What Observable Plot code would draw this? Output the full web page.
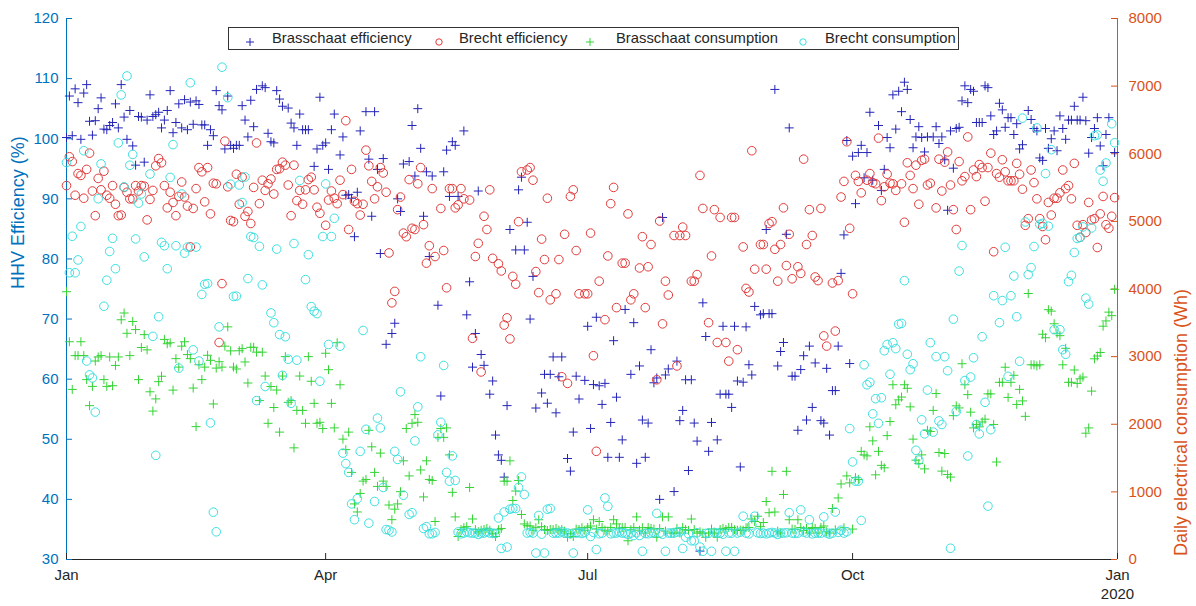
<!DOCTYPE html>
<html><head><meta charset="utf-8">
<script src="https://cdn.jsdelivr.net/npm/d3@7"></script>
<script src="https://cdn.jsdelivr.net/npm/@observablehq/plot@0.6"></script>
<style>
body{margin:0;background:#fff;}
#wrap{position:relative;width:1196px;height:606px;font-family:"Liberation Sans",Arial,sans-serif;}
#legend{position:absolute;left:228px;top:27px;width:729px;height:21px;border:1px solid #333;background:#fff;font-size:14.8px;color:#262626;}
.item{position:absolute;top:0;height:21px;line-height:21px;white-space:nowrap;}
.mk{position:absolute;top:6px;}
</style></head><body><div id="wrap"></div>
<script>
// ---- categories / ticks ----
const yearStart = "2019-01-01", yearEnd = "2020-01-01";
const monthTickDates = ["2019-01-01","2019-04-01","2019-07-01","2019-10-01","2020-01-01"];
const effTicks = [30,40,50,60,70,80,90,100,110,120];
const consTicks = [0,1000,2000,3000,4000,5000,6000,7000,8000];
const seriesNames = ["Brasschaat efficiency","Brecht efficiency","Brasschaat consumption","Brecht consumption"];

// ---- daily values (index = day of 2019), null = no point ----
const brasschaatEff = [
100.2,107.1,100.5,108.3,106.0,99.9,107.6,109.0,102.9,100.6,103.0,105.0,106.8,101.6,101.5,102.2,102.7,105.8,101.8,109.0,103.6,99.9,104.7,98.8,95.6,103.7,103.6,96.1,103.1,107.3,103.7,104.0,104.4,101.8,103.1,104.7,108.0,101.0,102.7,105.8,101.8,106.5,101.5,106.1,102.4,106.3,105.7,102.3,102.3,98.9,101.5,100.5,108.0,105.5,104.8,98.3,107.1,98.9,98.4,
98.9,98.9,105.5,103.1,100.3,106.4,102.0,108.2,null,108.8,108.5,100.9,99.5,99.3,108.0,106.6,105.4,null,105.1,102.6,101.8,98.9,104.1,101.5,101.5,101.5,null,95.4,98.3,106.9,98.9,99.3,94.9,101.5,104.1,null,97.3,100.3,90.6,90.7,90.1,83.7,91.1,101.3,null,104.5,96.6,87.1,104.5,94.9,80.9,96.7,65.8,null,67.6,69.3,90.0,87.9,95.8,null,96.2,
102.2,93.8,105.0,98.4,87.1,94.5,80.4,93.8,null,72.3,57.2,94.5,98.1,90.4,99.5,98.9,90.4,null,101.3,70.7,76.2,62.0,67.6,91.3,64.1,62.3,null,57.5,59.7,50.7,47.4,46.5,43.7,55.6,84.9,null,81.5,91.5,93.6,81.5,86.1,70.0,77.1,55.2,null,57.7,60.8,56.0,60.8,63.7,54.4,60.4,63.7,null,46.8,44.7,51.2,60.5,56.7,null,59.8,
68.8,51.8,59.1,70.3,58.9,55.8,59.3,47.0,52.8,66.4,57.0,47.0,49.9,71.6,null,60.8,69.4,46.0,62.2,53.2,47.0,52.7,64.9,59.4,60.2,40.0,86.9,60.7,61.7,null,41.3,63.0,53.1,54.8,59.9,44.8,59.9,52.7,49.7,31.4,72.7,67.1,48.0,52.8,null,49.9,57.5,68.8,57.5,57.5,55.3,68.8,59.7,45.4,59.5,68.7,62.4,60.7,72.1,null,70.7,
70.9,84.9,70.9,70.9,108.2,62.2,64.6,66.1,84.1,101.8,60.5,60.5,51.5,61.6,63.9,53.2,65.5,55.3,62.7,null,53.1,52.7,61.8,50.7,58.1,58.1,65.5,77.6,84.0,99.7,62.6,97.1,89.2,97.7,98.9,93.5,97.7,104.4,93.1,null,102.2,91.4,94.9,100.2,98.5,107.3,101.6,107.9,104.5,109.4,108.2,103.2,98.5,100.3,102.0,100.2,97.8,100.3,null,100.3,102.0,
99.2,100.3,96.5,88.1,101.3,95.1,101.7,101.9,106.3,108.8,106.0,108.2,107.9,102.7,102.7,102.7,108.8,108.5,103.8,100.7,101.3,105.9,104.8,101.9,103.5,103.5,100.7,102.5,98.3,99.0,null,104.7,103.2,101.7,101.3,96.8,96.4,101.7,98.4,100.0,101.3,98.0,103.8,101.7,99.9,103.1,103.1,105.4,103.1,103.1,106.9,103.0,97.6,100.2,101.7,103.5,98.8,95.5,100.7,103.5,null,97.7];

const brechtEff = [
92.2,97.0,96.2,90.6,94.2,93.9,90.1,94.9,97.6,91.3,87.2,93.4,91.5,94.6,90.6,90.1,92.2,89.1,87.2,87.3,91.9,91.1,90.0,90.0,92.2,91.3,92.2,92.1,86.5,89.9,91.4,95.5,96.7,96.0,92.2,88.5,91.1,89.4,87.2,90.4,92.8,90.3,88.8,82.0,88.4,91.7,95.2,94.5,89.5,95.2,87.5,92.6,92.5,66.1,75.9,99.6,92.0,86.4,86.2,
94.1,89.1,93.6,87.1,87.9,85.9,91.9,99.3,89.2,93.1,91.4,92.5,93.3,90.8,94.9,95.0,96.1,95.6,92.3,87.2,95.6,89.7,91.4,89.1,91.5,93.2,93.6,91.5,88.6,87.6,null,85.6,89.8,91.3,90.1,89.2,93.1,90.7,103.0,84.9,94.9,89.6,89.2,87.3,89.1,98.1,95.5,92.9,90.0,92.0,95.2,94.3,91.1,81.0,72.7,74.6,88.2,90.3,84.3,83.7,93.2,
85.1,84.9,92.5,95.2,85.7,79.3,82.2,91.7,80.4,null,88.4,81.4,75.2,91.7,91.7,88.5,89.0,91.7,90.0,null,89.8,66.8,80.4,82.6,61.2,87.1,84.9,91.5,80.1,null,79.2,78.0,69.0,70.2,66.7,77.1,75.8,86.2,94.5,null,94.8,95.2,93.1,77.9,74.4,83.3,79.9,90.1,73.2,null,74.2,79.9,60.4,84.1,59.3,90.4,91.5,81.4,74.2,null,74.2,
74.2,84.3,63.9,48.0,76.3,null,69.9,80.5,89.2,91.9,71.9,null,79.3,79.3,87.5,73.2,74.2,null,78.5,83.7,71.9,78.7,82.4,null,59.9,86.3,69.2,76.3,74.0,null,83.9,62.2,83.9,85.3,83.9,null,76.3,76.3,77.4,93.9,88.4,null,69.4,80.5,88.2,66.1,86.9,null,66.1,63.0,86.9,86.9,64.9,null,82.0,75.1,74.5,98.0,78.3,null,82.4,
82.4,78.3,85.9,86.2,81.6,76.3,82.4,88.5,78.9,84.1,76.7,null,78.7,77.6,96.6,82.4,88.2,83.9,77.0,76.4,88.4,67.2,65.5,null,76.0,68.0,76.4,90.3,92.9,99.5,85.1,74.2,93.9,92.9,91.0,null,93.1,94.2,92.7,92.5,100.1,89.7,92.0,94.1,92.6,92.5,91.4,null,92.5,86.1,96.0,93.9,91.7,95.6,89.1,96.4,96.6,92.3,92.6,null,88.5,
96.6,91.3,96.1,97.8,92.3,88.2,84.9,96.2,93.0,93.7,100.3,88.2,94.8,93.7,95.7,95.2,89.6,95.2,97.6,81.2,94.2,93.6,96.5,94.5,93.0,93.0,93.0,95.9,94.1,91.6,85.6,86.7,94.8,92.7,90.0,86.7,85.4,83.2,89.4,87.3,90.1,90.1,91.0,94.8,91.7,92.2,90.0,95.9,85.6,83.6,85.7,84.4,89.4,86.5,86.7,81.9,87.5,90.4,85.7,85.1,87.1,90.2];

const brasschaatCons = [
3960,3220,2515,3015,3015,3220,3015,2660,2275,2560,2935,2995,3015,2660,2560,2995,2570,2870,2995,3545,3645,3345,3015,3520,3400,2660,3135,3325,3100,2480,2195,2375,2630,2710,3255,3190,3205,2505,2970,2845,3155,3220,3030,2970,2535,1965,2880,2660,2845,3020,2945,2300,2830,2925,2845,3155,3440,3085,2845,
2817,3087,3118,2921,2610,3138,3138,3066,2350,3066,2713,2014,2558,2247,2506,1884,2713,3000,2324,2350,1651,2205,2713,2205,2014,3000,2636,2309,2014,2029,1936,3050,2807,2309,1946,3206,2584,1780,1625,1884,1288,822,703,977,1159,1184,1910,1666,1288,1081,1573,1159,1081,806,589,744,822,1003,1459,1936,1236,
2014,2143,2029,1324,925,1459,1184,1169,562,1806,1936,1806,1946,1547,993,630,340,443,470,485,1065,599,443,410,433,443,460,433,381,340,440,459,1158,1158,1459,873,1013,1169,666,526,500,495,433,470,588,485,443,430,443,443,460,433,443,420,329,381,340,450,443,470,433,
474,495,588,450,562,474,433,420,474,588,526,460,474,474,277,440,474,630,433,470,391,474,459,450,329,459,630,420,630,391,391,460,391,474,443,430,599,443,391,410,391,329,391,450,391,329,443,460,443,474,474,440,433,433,433,470,474,599,562,640,485,
547,858,692,1304,702,420,391,962,1304,588,450,443,588,474,430,459,391,474,460,391,474,495,410,391,754,440,910,1117,470,1236,1133,450,1210,1184,1599,1547,1532,1962,1754,1252,1599,1392,1356,1832,2040,2584,2288,2361,2402,2584,2532,2257,1780,1469,1418,1547,1340,1910,1894,2205,2454,
1582,1307,1567,1256,1219,2127,2272,2241,2895,2584,2438,2179,1946,1997,1961,2034,2075,2449,2449,1997,1442,2620,2620,2843,2397,2620,2724,2293,2516,2345,2117,3933,2879,2879,2864,2879,3331,3279,3694,3673,3486,3346,3310,2879,3123,2620,2620,2802,2604,2672,2698,1868,1946,2490,2968,3009,3061,3450,3528,3658,3606,3995];

const brechtCons = [
5870,4240,4780,4240,4430,4925,6045,2935,2730,2685,2180,5335,5850,3745,4130,4555,4750,4300,6160,6870,5510,7150,5830,5990,4740,5270,5405,4475,null,5700,3300,1540,3590,4690,4640,4300,5650,6135,4640,2830,5405,4530,4620,7050,3100,4620,2935,3920,4070,4080,2020,700,410,3440,7280,null,6830,5550,3890,
3895,5538,5279,5657,4154,4776,4761,2350,4631,4061,2558,null,3646,3501,4590,3325,2724,3294,2962,2309,4673,2947,5605,null,4139,4507,3740,3672,3636,2636,4776,5554,3180,4776,5046,null,3154,1573,1418,1288,822,589,899,1599,3387,1925,537,null,858,2091,1946,1065,443,433,407,1599,1480,2480,951,null,666,
692,1754,2257,2998,459,485,381,381,400,1843,2029,2869,1288,1158,1532,1169,407,380,391,407,395,391,391,370,391,391,405,391,391,385,614,163,702,184,744,754,754,1065,1221,961,391,400,391,96,651,375,96,744,754,390,391,391,410,391,391,380,96,391,395,385,400,
734,340,400,148,381,390,910,786,380,391,391,405,391,391,370,391,355,395,355,122,385,381,391,400,682,391,375,122,391,390,391,407,410,163,329,380,277,277,395,184,122,385,391,122,400,391,391,375,122,391,390,122,391,405,640,391,380,510,640,395,385,
391,380,391,400,391,370,391,391,395,692,391,385,391,734,405,391,588,380,391,391,390,630,391,375,391,702,400,433,391,410,1936,1443,1158,1158,578,2879,2584,2620,2154,2377,2014,2392,3087,3180,2739,3206,3118,3480,3491,4123,3035,2807,2895,1615,1469,2066,1858,2506,3206,1884,3000,
2049,1997,2999,2791,166,3554,2189,4265,4643,2646,1531,2698,2983,1997,1857,3294,2324,789,1920,3901,null,3502,3829,4617,2708,3901,4192,3590,2931,6527,4991,4213,4317,4628,6381,4955,4970,5707,4929,6060,3398,null,3398,3103,3035,4109,4202,4540,4747,4763,4918,3865,3777,4903,6267,6278,5759,5593,5863,null,6444,6163];

// ---- styling ----
const blueAxis = "#0072BD", orangeAxis = "#D95319", grayAxis = "#262626";
const colors = ["#2424b8", "#e23b3b", "#33d433", "#3ee0e0"];
const font = '"Liberation Sans", Arial, sans-serif';

const start = new Date(yearStart), end = new Date(yearEnd);
const days = d3.utcDay.range(start, end);
const monthTicks = monthTickDates.map(d => new Date(d));
const consToEff = v => 30 + v * 90 / 8000;
const rows = vals => vals.map((v, i) => ({date: days[i], value: v})).filter(d => d.value != null);

const plusSymbol = {draw(ctx, size) { const r = Math.sqrt(size / Math.PI); ctx.moveTo(-r, 0); ctx.lineTo(r, 0); ctx.moveTo(0, -r); ctx.lineTo(0, r); }};

const W = 1196, H = 606, mL = 66, mR = 79, mT = 18, mB = 47;
const pw = W - mL - mR, ph = H - mT - mB;

const chart = Plot.plot({
  width: W, height: H, marginTop: mT, marginBottom: mB, marginLeft: mL, marginRight: mR,
  style: {fontFamily: font, fontSize: "15px", background: "#fff", overflow: "visible"},
  x: {type: "utc", domain: [start, end], axis: null},
  y: {domain: [30, 120], axis: null},
  marks: [
    Plot.ruleX([start], {stroke: blueAxis}),
    Plot.ruleX([end], {stroke: orangeAxis}),
    Plot.ruleY([30], {stroke: grayAxis}),
    Plot.tickY(effTicks, {y: d => d, stroke: blueAxis, insetRight: pw - 6}),
    Plot.tickY(consTicks, {y: d => consToEff(d), stroke: orangeAxis, insetLeft: pw - 6}),
    Plot.tickX(monthTicks, {x: d => d, stroke: grayAxis, insetTop: ph - 6}),
    Plot.axisY(effTicks, {anchor: "left", tickSize: 0, tickPadding: 8, color: blueAxis, fontSize: 15, label: null}),
    Plot.axisY(consTicks.map(consToEff), {anchor: "right", tickSize: 0, tickPadding: 11, color: orangeAxis, fontSize: 15, label: null,
      tickFormat: d => String(Math.round((d - 30) * 8000 / 90))}),
    Plot.axisX(monthTicks, {anchor: "bottom", tickSize: 0, tickPadding: 10, color: grayAxis, fontSize: 15, label: null,
      tickFormat: d3.utcFormat("%b")}),
    Plot.text([end], {x: d => d, text: () => "2020", frameAnchor: "bottom", lineAnchor: "top", dy: 29, fill: grayAxis, fontSize: 15}),
    Plot.text(["HHV Efficiency (%)"], {frameAnchor: "left", dx: -48, rotate: -90, fill: blueAxis, fontSize: 18}),
    Plot.text(["Daily electrical consumption (Wh)"], {frameAnchor: "right", dx: 64, rotate: -90, fill: orangeAxis, fontSize: 18}),
    Plot.dot(rows(brasschaatEff), {x: "date", y: "value", symbol: plusSymbol, r: 4.5, stroke: colors[0], fill: "none", strokeWidth: 1}),
    Plot.dot(rows(brechtEff), {x: "date", y: "value", symbol: "circle", r: 4.3, stroke: colors[1], fill: "none", strokeWidth: 1}),
    Plot.dot(rows(brasschaatCons), {x: "date", y: d => consToEff(d.value), symbol: plusSymbol, r: 4.5, stroke: colors[2], fill: "none", strokeWidth: 1}),
    Plot.dot(rows(brechtCons), {x: "date", y: d => consToEff(d.value), symbol: "circle", r: 4.3, stroke: colors[3], fill: "none", strokeWidth: 1})
  ]
});

const wrap = document.getElementById("wrap");
wrap.appendChild(chart);

// legend (inside plot area, top)
const legend = document.createElement("div");
legend.id = "legend";
const legendPos = [[21, 43], [210, 230], [361, 387], [574, 596]];
const legendSym = ["plus", "circle", "plus", "circle"];
seriesNames.forEach((name, i) => {
  const mk = document.createElement("div");
  mk.className = "mk";
  mk.style.left = (legendPos[i][0] - 5) + "px";
  mk.innerHTML = legendSym[i] === "plus"
    ? `<svg width="10" height="10"><path d="M1,5H9M5,1V9" stroke="${colors[i]}" fill="none"/></svg>`
    : `<svg width="10" height="10"><circle cx="5" cy="5" r="3.2" stroke="${colors[i]}" fill="none"/></svg>`;
  legend.appendChild(mk);
  const t = document.createElement("div");
  t.className = "item";
  t.style.left = legendPos[i][1] + "px";
  t.textContent = name;
  legend.appendChild(t);
});
wrap.appendChild(legend);
</script></body></html>
